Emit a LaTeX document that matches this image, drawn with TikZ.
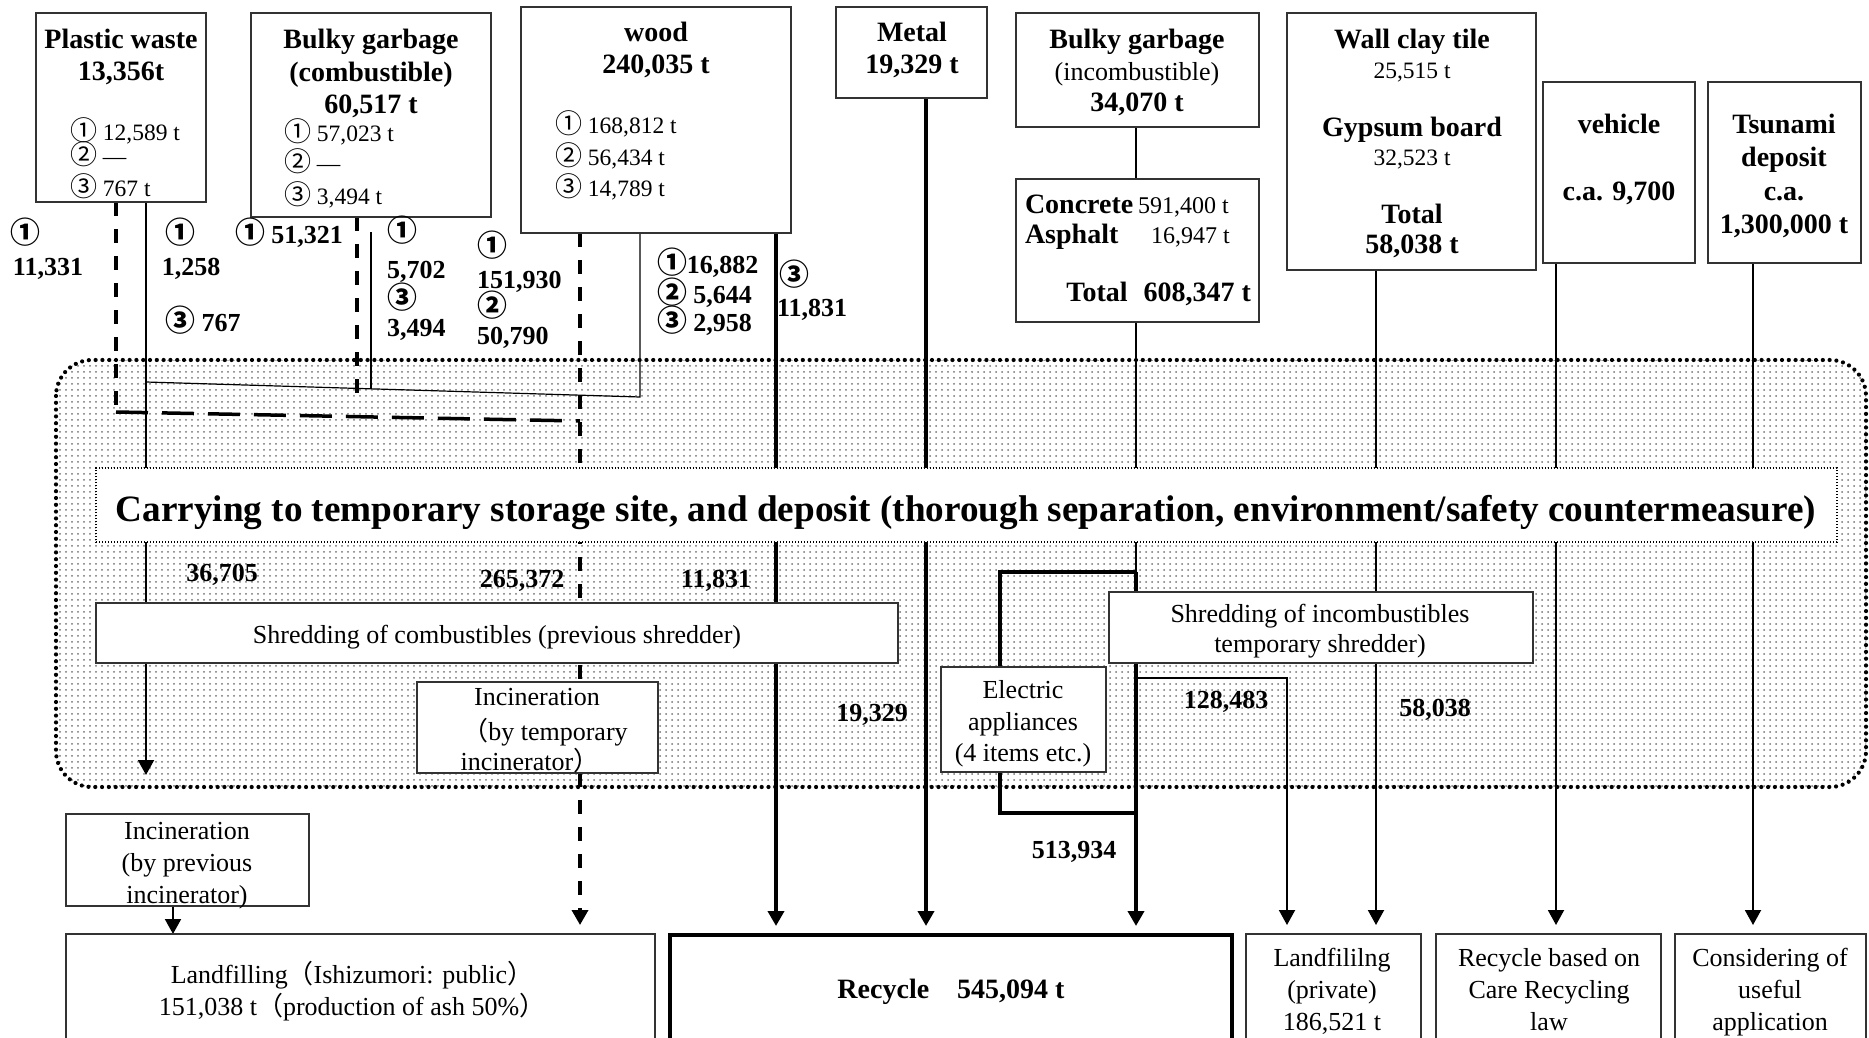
\documentclass[tikz,border=0pt]{standalone}
\usepackage{fontspec}
\setmainfont{Liberation Serif}
\newfontfamily\cjk{Noto Sans CJK JP}
\newfontfamily\cjkc[Scale=1.15]{Noto Sans CJK JP}
\usetikzlibrary{arrows.meta,patterns,calc}
\pgfdeclarelayer{bg}
\pgfdeclarelayer{lines}
\pgfsetlayers{bg,lines,main}
\newcommand{\ci}[1]{\smash{\cjkc #1}}
\newcommand{\fp}[1]{{\cjk #1}}
\newcommand{\fs}[1]{\fontsize{#1}{#1}\selectfont}
\newcommand{\bx}[6][]{\node[box,#1,anchor=north west,minimum width={(#4-#2)*0.5pt},minimum height={(#5-#3)*0.5pt}] (#6) at (#2,#3) {};}
\newcommand{\tx}[5][]{\node[txt,#1] (#2) at (#3,#4) {#5};}
\begin{document}
\begin{tikzpicture}[x=0.5pt,y=-0.5pt,
  box/.style={draw=black!80,line width=1pt,fill=white,inner sep=0pt,outer sep=0pt},
  txt/.style={inner sep=0pt,outer sep=0pt,anchor=mid,yshift=-1.8pt},
  hb/.style={font=\fs{14}\bfseries},
  rg/.style={font=\fs{11.75}},
  lb/.style={font=\fs{13}\bfseries},
  pr/.style={font=\fs{13}},
  ln/.style={line width=1pt},
  thinln/.style={line width=0.6pt},
  thk/.style={line width=2pt},
  dsh/.style={line width=1.75pt,dash pattern=on 7pt off 6.5pt},
  arr/.style={-{Triangle[length=7.5pt,width=8pt]}},
  gap/.style={shorten >=4.5pt},
]
\useasboundingbox (0,0) rectangle (1869,1038);
\clip (0,0) rectangle (1869,1038);

% ---------- boxes ----------
\bx{36}{13}{206}{202}{pw}
\bx{251}{13}{491}{217}{bgc}
\bx{521}{7}{791}{233}{wood}
\bx{836}{7}{987}{98}{metal}
\bx{1016}{13}{1259}{127}{bgi}
\bx{1016}{179}{1259}{322}{conc}
\bx{1287}{13}{1536}{270}{wall}
\bx{1543}{82}{1695}{263}{veh}
\bx{1708}{82}{1861}{263}{tsu}
\bx[draw=black,line width=0.6pt,dash pattern=on 0.6pt off 0.9pt]{96}{468}{1837}{542}{banner}
\bx{96}{603}{898}{663}{shc}
\bx{417}{682}{658}{773}{inct}
\bx{941}{667}{1106}{772}{elec}
\bx{1109}{592}{1533}{663}{shi}
\bx{66}{814}{309}{906}{incp}
\bx{66}{934}{655}{1080}{land}
\bx[line width=2pt,draw=black]{670}{935}{1232}{1080}{rec}
\bx{1246}{934}{1421}{1080}{lpriv}
\bx{1436}{934}{1661}{1080}{rcare}
\bx{1675}{934}{1866}{1080}{cons}

% ---------- column coordinates ----------
\coordinate (cA) at (116,0);
\coordinate (cB) at (146,0);
\coordinate (cC) at (357,0);
\coordinate (cD) at (371,0);
\coordinate (cE) at (580,0);
\coordinate (cF) at (640,0);
\coordinate (cG) at (776,0);
\coordinate (cH) at (926,0);
\coordinate (cI) at (1136,0);
\coordinate (cK) at (1287,0);
\coordinate (cL) at (1376,0);
\coordinate (cM) at (1556,0);
\coordinate (cN) at (1753,0);
\coordinate (cO) at (173,0);
\coordinate (pend) at (146,775);

% ---------- region ----------
\begin{pgfonlayer}{bg}
\fill[rounded corners=18pt,pattern=dots,pattern color=black!55] (56,360) rectangle (1866,787);
\draw[rounded corners=18pt,line width=2.1pt,dash pattern=on 0pt off 3.4pt,line cap=round] (56,360) rectangle (1866,787);
\end{pgfonlayer}

% ---------- connectors ----------
\begin{pgfonlayer}{lines}
\draw[dsh] (pw.south -| cA) -- (116,412);
\draw[line width=1.75pt,dash pattern=on 16pt off 7pt] (116,412) -- (580,421);
\draw[dsh] (bgc.south -| cC) -- (357,397);
\draw[dsh,arr,gap] (wood.south -| cE) -- (land.north -| cE);
\draw[ln,arr] (pw.south -| cB) -- (pend);
\draw[thinln] ($(bgc.south -| cD)+(0,15)$) -- (371,389);
\draw[thinln] (146,382) -- (640,397) -- (wood.south -| cF);
\draw[thk,arr,gap] (wood.south -| cG) -- (rec.north -| cG);
\draw[thk,arr,gap] (metal.south -| cH) -- (rec.north -| cH);
\draw[ln] (bgi.south -| cI) -- (conc.north -| cI);
\draw[ln] (conc.south -| cI) -- (1136,572);
\draw[thk,arr,gap] (1136,572) -- (rec.north -| cI);
\draw[thk] (1136,572) -- (1000,572) -- (1000,813) -- (1136,813);
\draw[ln,arr,gap] (1136,678) -- (1287,678) -- (lpriv.north -| cK);
\draw[ln,arr,gap] (wall.south -| cL) -- (lpriv.north -| cL);
\draw[ln,arr,gap] (veh.south -| cM) -- (rcare.north -| cM);
\draw[ln,arr,gap] (tsu.south -| cN) -- (cons.north -| cN);
\draw[ln,arr] (incp.south -| cO) -- (land.north -| cO);
\end{pgfonlayer}

% ---------- texts in source boxes ----------
\tx[hb]{t1}{121}{40}{Plastic waste}
\tx[hb]{t2}{121}{72}{13,356t}
\tx[rg,anchor=mid west]{t3}{70}{132}{\ci{①} 12,589 t}
\tx[rg,anchor=mid west]{t4}{70}{156}{\ci{②} —}
\tx[rg,anchor=mid west]{t5}{70}{188}{\ci{③} 767 t}

\tx[hb]{t6}{371}{40}{Bulky garbage}
\tx[hb]{t7}{371}{73}{(combustible)}
\tx[hb]{t8}{371}{105}{60,517 t}
\tx[rg,anchor=mid west]{t9}{284}{133}{\ci{①} 57,023 t}
\tx[rg,anchor=mid west]{t10}{284}{163}{\ci{②} —}
\tx[rg,anchor=mid west]{t11}{284}{196}{\ci{③} 3,494 t}

\tx[hb]{t12}{656}{33}{wood}
\tx[hb]{t13}{656}{65}{240,035 t}
\tx[rg,anchor=mid west]{t14}{555}{125}{\ci{①} 168,812 t}
\tx[rg,anchor=mid west]{t15}{555}{157}{\ci{②} 56,434 t}
\tx[rg,anchor=mid west]{t16}{555}{188}{\ci{③} 14,789 t}

\tx[hb]{t17}{912}{33}{Metal}
\tx[hb]{t18}{912}{65}{19,329 t}

\tx[hb]{t19}{1137}{40}{Bulky garbage}
\tx[pr]{t20}{1137}{72}{(incombustible)}
\tx[hb]{t21}{1137}{103}{34,070 t}

\tx[hb,anchor=mid west]{t22}{1025}{205}{Concrete}
\tx[rg,font=\fs{12},anchor=mid west]{t23}{1138}{205}{591,400 t}
\tx[hb,anchor=mid west]{t24}{1025}{235}{Asphalt}
\tx[rg,font=\fs{12},anchor=mid west]{t25}{1151}{235}{16,947 t}
\tx[hb,anchor=mid east]{t26}{1251}{293}{Total\hspace{8pt}608,347 t}

\tx[hb]{t27}{1412}{40}{Wall clay tile}
\tx[rg]{t28}{1412}{70}{25,515 t}
\tx[hb]{t29}{1412}{128}{Gypsum board}
\tx[rg]{t30}{1412}{157}{32,523 t}
\tx[hb]{t31}{1412}{215}{Total}
\tx[hb]{t32}{1412}{245}{58,038 t}

\tx[hb]{t33}{1619}{125}{vehicle}
\tx[hb]{t34}{1619}{192}{c.a. 9,700}

\tx[hb]{t35}{1784}{125}{Tsunami}
\tx[hb]{t36}{1784}{158}{deposit}
\tx[hb]{t37}{1784}{192}{c.a.}
\tx[hb]{t38}{1784}{225}{1,300,000 t}

% ---------- flow labels ----------
\tx[lb]{l1}{25}{235}{\ci{①}}
\tx[lb]{l2}{48}{267}{11,331}
\tx[lb]{l3}{180}{235}{\ci{①}}
\tx[lb]{l4}{191}{267}{1,258}
\tx[lb]{l5}{203}{323}{\ci{③} 767}
\tx[lb]{l6}{289}{235}{\ci{①} 51,321}
\tx[lb,anchor=mid west]{l7}{387}{233}{\ci{①}}
\tx[lb,anchor=mid west]{l8}{387}{270}{5,702}
\tx[lb,anchor=mid west]{l9}{387}{300}{\ci{③}}
\tx[lb,anchor=mid west]{l10}{387}{328}{3,494}
\tx[lb,anchor=mid west]{l11}{477}{248}{\ci{①}}
\tx[lb,anchor=mid west]{l12}{477}{280}{151,930}
\tx[lb,anchor=mid west]{l13}{477}{308}{\ci{②}}
\tx[lb,anchor=mid west]{l14}{477}{336}{50,790}
\tx[lb,anchor=mid west]{l15}{657}{265}{\ci{①}16,882}
\tx[lb,anchor=mid west]{l16}{657}{295}{\ci{②} 5,644}
\tx[lb,anchor=mid west]{l17}{657}{323}{\ci{③} 2,958}
\tx[lb,anchor=mid west]{l18}{779}{277}{\ci{③}}
\tx[lb,anchor=mid west]{l19}{777}{308}{11,831}

\tx[lb]{l20}{222}{573}{36,705}
\tx[lb]{l21}{522}{579}{265,372}
\tx[lb]{l22}{716}{579}{11,831}
\tx[lb]{l23}{872}{713}{19,329}
\tx[lb]{l24}{1226}{700}{128,483}
\tx[lb]{l25}{1435}{708}{58,038}
\tx[lb]{l26}{1074}{850}{513,934}

% ---------- process texts ----------
\tx[font=\fs{18.6}\bfseries,yshift=-3pt]{tb}{966}{507}{Carrying to temporary storage site, and deposit (thorough separation, environment/safety countermeasure)}
\tx[pr]{p1}{497}{635}{Shredding of combustibles (previous shredder)}
\tx[pr]{p2}{537}{697}{Incineration}
\tx[pr]{p3}{545}{732}{\fp{（}by temporary}
\tx[pr]{p4}{530}{762}{incinerator\fp{）}}
\tx[pr]{p5}{1023}{690}{Electric}
\tx[pr]{p6}{1023}{722}{appliances}
\tx[pr]{p7}{1023}{753}{(4 items etc.)}
\tx[pr]{p8}{1320}{614}{Shredding of incombustibles}
\tx[pr]{p9}{1320}{644}{temporary shredder)}
\tx[pr]{p10}{187}{831}{Incineration}
\tx[pr]{p11}{187}{863}{(by previous}
\tx[pr]{p12}{187}{895}{incinerator)}
\tx[pr]{p13}{352}{975}{Landfilling\fp{（}Ishizumori: public\fp{）}}
\tx[pr]{p14}{352}{1007}{151,038 t\fp{（}production of ash 50\%\fp{）}}
\tx[hb]{p15}{951}{990}{Recycle\hspace{14pt}545,094 t}
\tx[pr]{p16}{1332}{958}{Landfililng}
\tx[pr]{p17}{1332}{990}{(private)}
\tx[pr]{p18}{1332}{1022}{186,521 t}
\tx[pr]{p19}{1549}{958}{Recycle based on}
\tx[pr]{p20}{1549}{990}{Care Recycling}
\tx[pr]{p21}{1549}{1022}{law}
\tx[pr]{p22}{1770}{958}{Considering of}
\tx[pr]{p23}{1770}{990}{useful}
\tx[pr]{p24}{1770}{1022}{application}
\end{tikzpicture}
\end{document}
